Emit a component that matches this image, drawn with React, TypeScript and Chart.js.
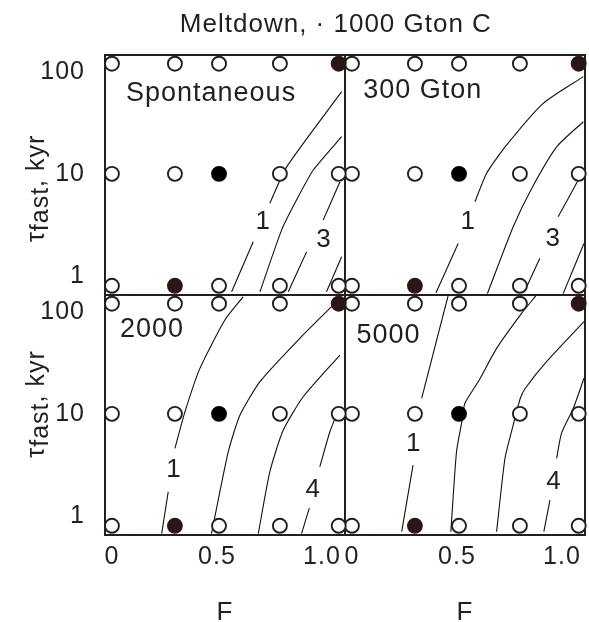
import React, { useEffect, useRef } from "react";
import { Chart, registerables } from "chart.js";

Chart.register(...registerables);

const W = 589;
const H = 622;
const FONT = "'Liberation Sans', Arial, Helvetica, sans-serif";
const INK = "#231f20";

// Model runs: release fraction F (columns) by fast time constant (rows, kyr)
const fValues = [0, 0.3, 0.51, 0.8, 1.08];
const tauValues = [120, 10, 0.8];
// 0 = open circle, 1 = black, 2 = dark fill
const runKindTop = [0, 0, 0, 0, 2];
const runKindMid = [0, 0, 1, 0, 0];
const runKindBot = [0, 2, 0, 0, 0];

const fTicks = [0, 0.5, 1.0];
const tauTicks = [1, 10, 100];

const panelNames = ["Spontaneous", "300 Gton", "2000", "5000"];
// [F, tau] of each panel name's left baseline
const panelNameAt = [
  [0.067, 52],
  [0.054, 55],
  [0.038, 57],
  [0.022, 49],
];

// Contour lines, as [F, tau] runs (breaks leave room for the labels)
const spontLine1a = [[1.094, 63.8], [0.832, 11.7], [0.752, 5.14]];
const spontLine1b = [[0.673, 2.16], [0.57, 0.7]];
const spontLine2 = [[1.094, 23.1], [0.959, 10.9], [0.879, 5.53], [0.808, 2.81], [0.705, 0.7]];
const spontLine3a = [[1.086, 8.37], [1.006, 3.52]];
const spontLine3b = [[0.927, 1.72], [0.84, 0.7]];
const spontLine4 = [[1.094, 1.54], [1.022, 0.7]];
const spontLabels: [string, number, number][] = [["1", 0.72, 3.39], ["3", 1.01, 2.24]];

const g300Line1a = [[1.102, 89.6], [0.911, 49.1], [0.737, 19.2], [0.641, 10.1], [0.586, 5.32]];
const g300Line1b = [[0.506, 2.08], [0.4, 0.68]];
const g300Line2 = [[1.102, 32.4], [0.975, 18.4], [0.856, 7.2], [0.768, 3.03], [0.645, 0.67]];
const g300Line3a = [[1.078, 8.69], [0.982, 3.8]];
const g300Line3b = [[0.895, 1.49], [0.832, 0.78]];
const g300Line4 = [[1.105, 2.08], [1.006, 0.67]];
const g300Labels: [string, number, number][] = [["1", 0.554, 3.39], ["3", 0.959, 2.33]];

const g2000Line1a = [[0.625, 140], [0.538, 83.2], [0.419, 27.9], [0.348, 10.5], [0.3, 4.59]];
const g2000Line1b = [[0.268, 1.72], [0.237, 0.67]];
const g2000Line2 = [[1.086, 135], [0.895, 55], [0.705, 20.7], [0.61, 9.73], [0.554, 4.25], [0.474, 0.67]];
const g2000Line3 = [[1.086, 37.7], [0.911, 14.7], [0.816, 6.93], [0.752, 2.7], [0.697, 0.67]];
const g2000Line4a = [[1.078, 10.9], [1.038, 6.68], [0.99, 3.03]];
const g2000Line4b = [[0.94, 1.19], [0.903, 0.67]];
const g2000Labels: [string, number, number][] = [["1", 0.295, 2.81], ["4", 0.959, 1.79]];

const g5000Line1a = [[0.459, 146], [0.332, 14.2]];
const g5000Line1b = [[0.291, 3.15], [0.237, 0.7]];
const g5000Line2 = [[0.879, 146], [0.808, 96.5], [0.689, 43.8], [0.602, 20.7], [0.538, 12.7], [0.522, 8.07], [0.498, 4.25], [0.471, 0.7]];
const g5000Line3 = [[1.105, 80], [0.927, 32.4], [0.826, 17.8], [0.802, 14.2], [0.768, 7.76], [0.729, 3.67], [0.689, 0.7]];
const g5000Line4a = [[1.105, 22.3], [1.054, 11.3], [0.998, 6.44], [0.975, 3.67]];
const g5000Line4b = [[0.943, 1.43], [0.914, 0.7]];
const g5000Labels: [string, number, number][] = [["1", 0.294, 5.14], ["4", 0.962, 2.16]];

const titleText = "Meltdown, \u00b7 1000 Gton C";
// tau at which each row's rotated axis title is centred (top row, bottom row)
const yTitleTau = [7.2, 12.5];

const panels = [
  { x: "xL", y: "yT", lines: [spontLine1a, spontLine1b, spontLine2, spontLine3a, spontLine3b, spontLine4], labels: spontLabels },
  { x: "xR", y: "yT", lines: [g300Line1a, g300Line1b, g300Line2, g300Line3a, g300Line3b, g300Line4], labels: g300Labels },
  { x: "xL", y: "yB", lines: [g2000Line1a, g2000Line1b, g2000Line2, g2000Line3, g2000Line4a, g2000Line4b], labels: g2000Labels },
  { x: "xR", y: "yB", lines: [g5000Line1a, g5000Line1b, g5000Line2, g5000Line3, g5000Line4a, g5000Line4b], labels: g5000Labels },
];

const kindFill = ["#ffffff", "#000000", "#2a1615"];

function buildDatasets() {
  const rows = [runKindTop, runKindMid, runKindBot];
  const sets: any[] = [];
  panels.forEach((p) => {
    const pts: any[] = [];
    const fills: string[] = [];
    const strokes: string[] = [];
    rows.forEach((kinds, r) => {
      fValues.forEach((f, c) => {
        pts.push({ x: f, y: tauValues[r] });
        fills.push(kindFill[kinds[c]]);
        strokes.push(kinds[c] === 0 ? INK : kindFill[kinds[c]]);
      });
    });
    sets.push({
      data: pts,
      xAxisID: p.x,
      yAxisID: p.y,
      pointRadius: 7,
      pointHoverRadius: 7,
      pointBorderWidth: 1.9,
      pointBackgroundColor: fills,
      pointBorderColor: strokes,
      showLine: false,
      clip: false,
      order: 0,
    });
  });
  panels.forEach((p) => {
    p.lines.forEach((seg) => {
      sets.push({
        data: seg.map(([x, y]) => ({ x, y })),
        xAxisID: p.x,
        yAxisID: p.y,
        showLine: true,
        pointRadius: 0,
        borderColor: "#111111",
        borderWidth: 1.1,
        tension: 0.2,
        order: 1,
      });
    });
  });
  return sets;
}

const tickFont = { family: FONT, size: 25 };

// scales report no label overhang, so the plot frame keeps its fixed extent
function noOverhang(s: any) {
  s.paddingLeft = 0;
  s.paddingRight = 0;
  s.paddingTop = 0;
  s.paddingBottom = 0;
}

function fScale() {
  return {
    type: "linear",
    position: "bottom",
    stack: "f",
    stackWeight: 1,
    min: -0.033,
    max: 1.11,
    afterBuildTicks: (s: any) => {
      s.ticks = fTicks.map((v) => ({ value: v }));
    },
    afterFit: (s: any) => {
      s.height = H - 535;
      noOverhang(s);
    },
    ticks: {
      font: tickFont,
      color: INK,
      padding: 7,
      maxRotation: 0,
      autoSkip: false,
      callback: (v: number) => (v === 0 ? "0" : v.toFixed(1)),
    },
    grid: { display: false, drawTicks: false, tickLength: 0 },
    border: { display: false },
    title: {
      display: true,
      text: "F",
      color: INK,
      font: { family: FONT, size: 26 },
      padding: { top: 0, bottom: -6 },
    },
  };
}

function tauScale() {
  return {
    type: "logarithmic",
    position: "left",
    stack: "tau",
    stackWeight: 1,
    min: 0.65,
    max: 146,
    afterBuildTicks: (s: any) => {
      s.ticks = tauTicks.map((v) => ({ value: v }));
    },
    afterFit: (s: any) => {
      s.width = 105;
      noOverhang(s);
    },
    ticks: {
      font: tickFont,
      color: INK,
      padding: 20,
      autoSkip: false,
      callback: (v: number) => String(v),
    },
    grid: { display: false, drawTicks: false, tickLength: 0 },
    border: { display: false },
  };
}

const figurePlugin = {
  id: "figure",
  beforeDraw(chart: any) {
    const ctx = chart.ctx;
    ctx.fillStyle = "#ffffff";
    ctx.fillRect(0, 0, chart.width, chart.height);
    try {
      ctx.letterSpacing = "1px";
    } catch (e) {
      /* older canvas */
    }
  },
  beforeDatasetsDraw(chart: any) {
    const ctx = chart.ctx;
    ctx.save();
    ctx.strokeStyle = INK;
    ctx.lineWidth = 2;
    panels.forEach((p) => {
      const xs = chart.scales[p.x];
      const ys = chart.scales[p.y];
      ctx.strokeRect(xs.left, ys.top, xs.right - xs.left, ys.bottom - ys.top);
    });
    ctx.restore();
  },
  afterDatasetsDraw(chart: any) {
    const ctx = chart.ctx;
    ctx.save();
    ctx.fillStyle = INK;

    // panel names
    ctx.font = `27px ${FONT}`;
    ctx.textAlign = "left";
    ctx.textBaseline = "alphabetic";
    panels.forEach((p, i) => {
      const xs = chart.scales[p.x];
      const ys = chart.scales[p.y];
      ctx.fillText(panelNames[i], xs.getPixelForValue(panelNameAt[i][0]), ys.getPixelForValue(panelNameAt[i][1]));
    });

    // contour labels
    ctx.font = `26px ${FONT}`;
    ctx.textAlign = "center";
    ctx.textBaseline = "middle";
    panels.forEach((p) => {
      const xs = chart.scales[p.x];
      const ys = chart.scales[p.y];
      p.labels.forEach(([t, f, tau]) => {
        ctx.fillText(t, xs.getPixelForValue(f), ys.getPixelForValue(tau));
      });
    });

    // figure title
    ctx.font = `26px ${FONT}`;
    ctx.textAlign = "center";
    ctx.textBaseline = "alphabetic";
    const area = chart.chartArea;
    ctx.fillText(titleText, area.left + area.width * 0.481, 32);

    // rotated tau axis titles with subscript
    ["yT", "yB"].forEach((id, i) => {
      const ys = chart.scales[id];
      const cy = ys.getPixelForValue(yTitleTau[i]);
      const parts = [
        { t: "\u03c4", dy: 0 },
        { t: "fast", dy: 4 },
        { t: ", kyr", dy: 0 },
      ];
      ctx.save();
      ctx.translate(44, cy);
      ctx.rotate(-Math.PI / 2);
      ctx.font = `25px ${FONT}`;
      ctx.textAlign = "left";
      ctx.textBaseline = "alphabetic";
      const widths = parts.map((q) => ctx.measureText(q.t).width);
      const total = widths.reduce((a, b) => a + b, 0);
      let x = -total / 2;
      parts.forEach((q, k) => {
        ctx.fillText(q.t, x, q.dy);
        x += widths[k];
      });
      ctx.restore();
    });

    ctx.restore();
  },
};

export default function App() {
  const ref = useRef<HTMLCanvasElement>(null);

  useEffect(() => {
    const canvas = ref.current;
    if (!canvas) return;
    const chart = new Chart(canvas, {
      type: "scatter",
      data: { datasets: buildDatasets() },
      options: {
        responsive: false,
        animation: false,
        devicePixelRatio: 1,
        layout: { autoPadding: false, padding: { top: 55, right: 4, bottom: 0, left: 0 } },
        plugins: {
          legend: { display: false },
          tooltip: { enabled: false },
          title: { display: false },
        },
        events: [],
        // left-hand boxes are stacked in reverse order, so the lower row comes first
        scales: {
          xL: fScale(),
          xR: fScale(),
          yB: tauScale(),
          yT: tauScale(),
        } as any,
      },
      plugins: [figurePlugin],
    } as any);
    return () => chart.destroy();
  }, []);

  return (
    <div style={{ position: "absolute", left: 0, top: 0, width: W, height: H, background: "#ffffff" }}>
      <canvas ref={ref} width={W} height={H} style={{ width: W, height: H, display: "block" }} />
    </div>
  );
}
